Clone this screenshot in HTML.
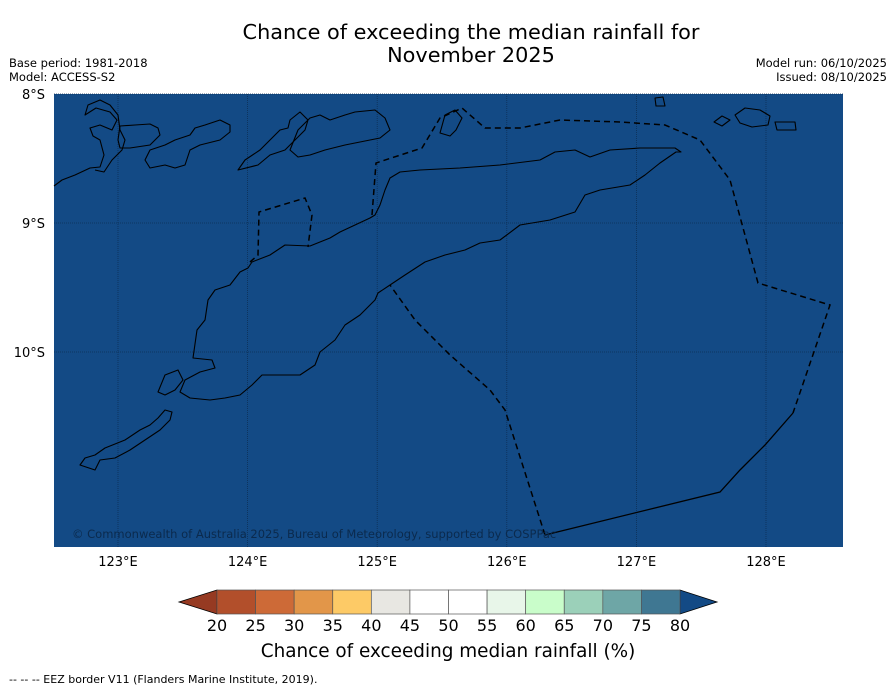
<!DOCTYPE html>
<html><head><meta charset="utf-8"><style>
body{margin:0;background:#fff;font-family:"DejaVu Sans","Liberation Sans",sans-serif}
svg{display:block}
</style></head><body>
<svg width="896" height="690" xmlns="http://www.w3.org/2000/svg">
<text x="471" y="39" font-size="20.8" text-anchor="middle">Chance of exceeding the median rainfall for</text>
<text x="471" y="62" font-size="20.8" text-anchor="middle">November 2025</text>
<text x="9" y="67" font-size="11.5">Base period: 1981-2018</text>
<text x="9" y="81" font-size="11.5">Model: ACCESS-S2</text>
<text x="887" y="67" font-size="11.5" text-anchor="end">Model run: 06/10/2025</text>
<text x="887" y="81" font-size="11.5" text-anchor="end">Issued: 08/10/2025</text>
<g id="map">
<rect x="54" y="94" width="789" height="453" fill="#134a85"/>
<g id="grid" stroke="#0d2f55" stroke-width="0.8" stroke-dasharray="1 1"></g>
<g fill="none" stroke="#000" stroke-width="1.1" stroke-linejoin="round">
<path d="M193,358 L197,330 L205,320 L208,300 L215,290 L230,285 L240,272 L248,268 L252,262 L270,255 L285,245 L310,246 L330,238 L340,232 L355,225 L370,218 L375,215 L380,205 L385,190 L390,178 L400,172 L420,170 L460,168 L500,165 L540,160 L555,152 L575,150 L590,157 L610,150 L640,148 L660,148 L675,148 L681,152 L676,152 L660,163 L645,175 L630,185 L600,190 L585,195 L575,212 L550,220 L520,225 L500,240 L480,243 L465,250 L445,255 L425,262 L405,275 L390,285 L378,293 L375,300 L360,315 L345,325 L335,340 L320,352 L315,365 L300,375 L280,375 L262,375 L252,385 L240,395 L225,398 L210,400 L190,398 L180,392 L185,380 L200,372 L215,368 L212,360 Z"/>
<path d="M158,392 L165,375 L178,370 L183,380 L175,390 L165,395 Z"/>
<path d="M95,470 L100,460 L115,458 L130,450 L145,440 L160,430 L170,420 L172,412 L165,410 L158,418 L150,425 L140,430 L125,440 L105,448 L95,455 L85,458 L80,465 Z"/>
<path d="M54,186 L62,180 L75,175 L90,168 L100,167 L104,155 L100,140 L93,136 L90,128 L100,125 L112,130 L117,120 L110,112 L96,108 L85,115 L88,105 L100,100 L110,105 L118,115 L120,130 L125,140 L122,150 L112,160 L104,172 L95,170"/>
<path d="M118,140 L120,126 L135,125 L150,124 L158,128 L160,135 L150,145 L130,148 L120,148 Z"/>
<path d="M145,160 L150,150 L165,145 L175,140 L190,135 L195,128 L205,125 L220,120 L230,125 L230,132 L220,140 L200,145 L190,150 L185,165 L175,168 L165,165 L150,168 Z"/>
<path d="M238,170 L245,160 L260,150 L270,140 L280,130 L288,128 L290,120 L300,112 L308,120 L305,130 L295,140 L285,150 L270,155 L258,165 Z"/>
<path d="M290,150 L298,130 L310,118 L320,115 L330,120 L345,115 L355,112 L375,110 L385,118 L390,130 L380,138 L360,142 L345,145 L325,150 L310,155 L298,157 Z"/>
<path d="M440,133 L445,115 L455,110 L462,118 L456,130 L450,136 Z"/>
<path d="M655,98 L663,97 L665,106 L656,106 Z"/>
<path d="M714,122 L722,116 L730,120 L722,126 Z"/>
<path d="M735,115 L745,108 L760,110 L770,116 L768,125 L752,127 L740,123 Z"/>
<path d="M775,122 L795,122 L796,130 L777,130 Z"/>
</g>
<g fill="none" stroke="#000" stroke-width="1.5" stroke-dasharray="6 4">
<path d="M250,262 L258,255 L259,212 L305,198 L312,215 L308,247"/>
<path d="M372,215 L376,163 L422,148 L440,118 L462,108 L485,128 L520,128 L560,120 L620,122 L665,125 L700,140 L730,180 L758,283 L830,305 L793,413"/>
<path d="M545,535 L505,410 L490,390 L450,355 L415,320 L390,285"/>
</g>
<path d="M793,413 L765,445 L740,470 L720,492 L545,535" fill="none" stroke="#000" stroke-width="1.3"/>
<text x="72" y="538" font-size="11.5" fill="#0b2a4d">© Commonwealth of Australia 2025, Bureau of Meteorology, supported by COSPPac</text>
</g>
<g id="xlabels" font-size="13"></g>
<g id="ylabels" font-size="13"></g>
<g id="cbar"></g>
<text x="448" y="657" font-size="18.4" text-anchor="middle">Chance of exceeding median rainfall (%)</text>
<text x="9" y="683" font-size="11">--  --  -- EEZ border V11 (Flanders Marine Institute, 2019).</text>
</svg>
<script>
const lonTicks=[123,124,125,126,127,128];
const latTicks=[8,9,10];
const latLabels=['8°S','9°S','10°S'];
const cbarTicks=[20,25,30,35,40,45,50,55,60,65,70,75,80];
const cbarColors=['#b24f2b','#cd6a37','#e29649','#fdca66','#e8e7e2','#ffffff','#ffffff','#e8f6e9','#c9fdca','#9bd0b9','#6ea6a6','#3f7792'];
const NS='http://www.w3.org/2000/svg';
const lonX=l=>118+(l-123)*129.6;
const latY=l=>94+(l-8)*129;
const cx=v=>217+(v-20)*(463/60);
function mk(t,a,p){const e=document.createElementNS(NS,t);for(const k in a)e.setAttribute(k,a[k]);p.appendChild(e);return e;}
const grid=document.getElementById('grid'),xl=document.getElementById('xlabels'),yl=document.getElementById('ylabels'),cb=document.getElementById('cbar');
lonTicks.forEach(l=>{
 const g=mk('line',{x1:lonX(l),x2:lonX(l),y1:94,y2:547},grid);
 
 
 const t=mk('text',{x:lonX(l),y:566,'text-anchor':'middle'},xl);t.textContent=l+'°E';
 
 
});
latTicks.forEach((l,i)=>{
 const g=mk('line',{x1:54,x2:843,y1:latY(l),y2:latY(l)},grid);
 
 
 const t=mk('text',{x:45,y:latY(l)+5,'text-anchor':'end'},yl);t.textContent=latLabels[i];
 
 
});
const lo=mk('polygon',{points:`${cx(20)},590 ${cx(20)},614 179,602`,fill:'#963a22',stroke:'#000','stroke-width':0.8},cb);


const hi=mk('polygon',{points:`${cx(80)},590 ${cx(80)},614 717,602`,fill:'#134a85',stroke:'#000','stroke-width':0.8},cb);


cbarColors.forEach((c,i)=>{
 const r=mk('rect',{x:cx(cbarTicks[i]),y:590,width:cx(cbarTicks[i+1])-cx(cbarTicks[i]),height:24,fill:c,stroke:'#555','stroke-width':0.7},cb);
 
 
});
cbarTicks.forEach(v=>{
 const t=mk('text',{x:cx(v),y:631,'text-anchor':'middle','font-size':16},cb);t.textContent=v;
 
 
});
</script>
</body></html>
